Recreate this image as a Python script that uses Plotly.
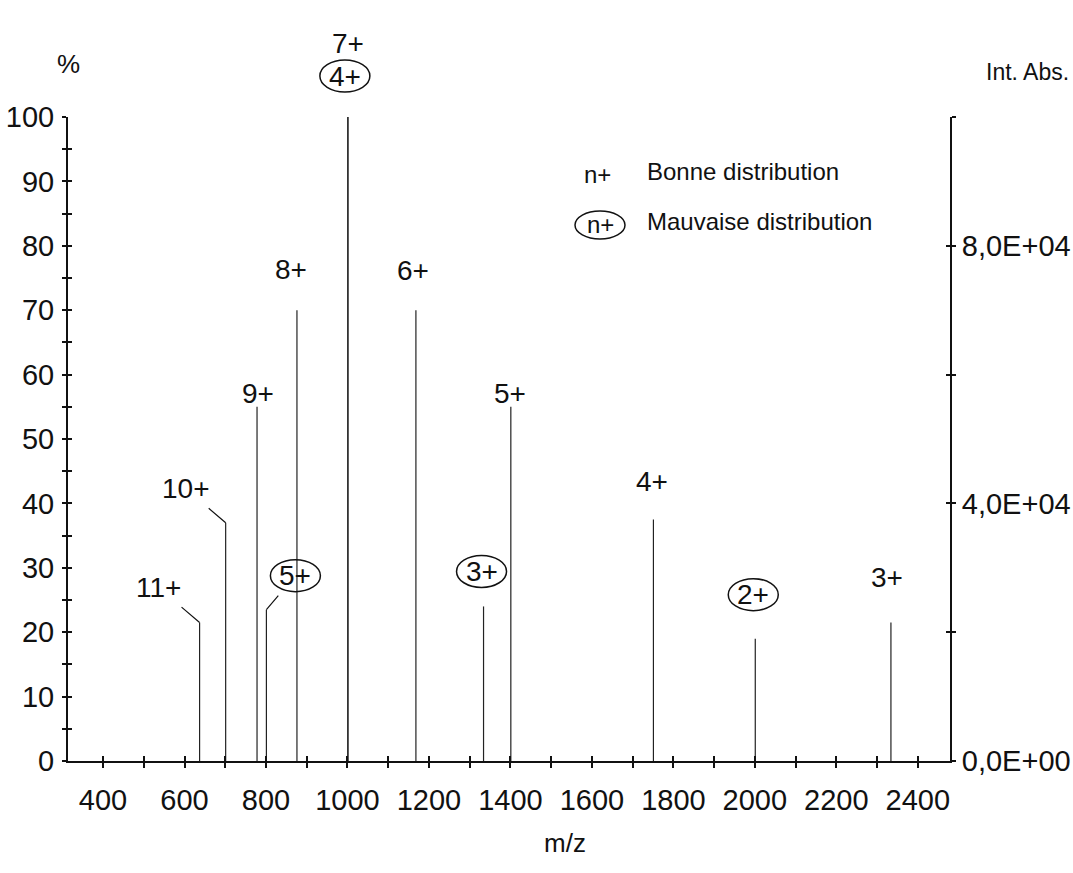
import plotly.graph_objects as go

# ---- Spectrum data -------------------------------------------------------
# Good charge-state distribution (M ~ 7000 Da)
good_mz = [637, 701, 778, 876, 1001, 1168, 1401, 1751, 2334]
good_int = [21.5, 37, 55, 70, 100, 70, 55, 37.5, 21.5]
good_z = ["11+", "10+", "9+", "8+", "7+", "6+", "5+", "4+", "3+"]

# Bad charge-state distribution (M ~ 4000 Da)
bad_mz = [801, 1001, 1334, 2001]
bad_int = [23.5, 100, 24, 19]
bad_z = ["5+", "4+", "3+", "2+"]

# Axis ticks
x_ticks = list(range(400, 2401, 100))
y_ticks = list(range(0, 101, 5))
abs_ticks = list(range(0, 100001, 20000))
ABS_MAX = 100000  # absolute intensity at 100 %

# ---- Label placement (pixel offsets from stick top, +dy = up) -------------
good_off = [(-41, 35, True), (-40, 34, True), (1, 13, False), (-6, 41, False),
            (0, 74, False), (-3, 40, False), (-1, 13, False), (-1, 38, False),
            (-4, 45, False)]
bad_off = [(29, 34, True), (-3, 41, False), (-2, 35, False), (-2, 44, False)]

FONT = "Liberation Sans"
BLACK = "#111111"
LBL = 28

XR = [314, 2479]
YR = [0, 100]

# ---- Sticks ----------------------------------------------------------------
def sticks(mzs, ints):
    xs, ys = [], []
    for m, i in zip(mzs, ints):
        xs += [m, m, None]
        ys += [0, i, None]
    return xs, ys

all_mz = good_mz + bad_mz
all_int = good_int + bad_int
sx, sy = sticks(all_mz, all_int)

fig = go.Figure()
fig.add_trace(go.Scatter(x=sx, y=sy, mode="lines",
                         line=dict(color="#222222", width=1.2),
                         showlegend=False, hoverinfo="skip"))
# helper traces so that overlay axes (crossing ticks, right axis) are drawn
for xa, ya in [("x", "y2"), ("x2", "y3"), ("x", "y4")]:
    fig.add_trace(go.Scatter(x=[None], y=[None], xaxis=xa, yaxis=ya,
                             showlegend=False, hoverinfo="skip"))

# ---- Peak labels -----------------------------------------------------------
annotations = []
shapes = []


def frac_x(m):
    return (m - XR[0]) / (XR[1] - XR[0])


def frac_y(v):
    return (v - YR[0]) / (YR[1] - YR[0])


def add_label(m, inten, txt, off):
    dx, dy, leader = off
    if leader:
        annotations.append(dict(
            x=m, y=inten, xref="x", yref="y", text=txt, showarrow=True,
            ax=dx, ay=-dy, axref="pixel", ayref="pixel",
            arrowhead=0, arrowwidth=1.2, arrowcolor=BLACK,
            standoff=0, startstandoff=4,
            font=dict(family=FONT, size=LBL, color=BLACK)))
    else:
        annotations.append(dict(
            x=m, y=inten, xref="x", yref="y", text=txt, showarrow=False,
            xshift=dx, yshift=dy, xanchor="center", yanchor="middle",
            font=dict(family=FONT, size=LBL, color=BLACK)))


for m, i, z, o in zip(good_mz, good_int, good_z, good_off):
    add_label(m, i, z, o)

for m, i, z, o in zip(bad_mz, bad_int, bad_z, bad_off):
    add_label(m, i, z, o)
    dx, dy, _ = o
    # ellipse round the label, anchored on the stick top
    shapes.append(dict(
        type="circle", xref="paper", yref="paper",
        xsizemode="pixel", ysizemode="pixel",
        xanchor=frac_x(m), yanchor=frac_y(i),
        x0=dx - 25, x1=dx + 25, y0=dy - 16, y1=dy + 16,
        line=dict(color=BLACK, width=1.5)))

# ---- Legend (text key) -----------------------------------------------------
PW, PH, L0, B0 = 882, 644, 68, 761


def px(xp):
    return (xp - L0) / PW


def py(yp):
    return (B0 - yp) / PH


LEG = 24


def note(x, y, text, size, xanchor="center"):
    return dict(x=px(x), y=py(y), xref="paper", yref="paper", text=text,
                showarrow=False, xanchor=xanchor, yanchor="middle",
                font=dict(family=FONT, size=size, color=BLACK))


annotations += [
    note(597, 174, "n+", LEG),
    note(645, 172, "Bonne distribution", LEG, "left"),
    note(600, 224, "n+", LEG),
    note(645, 222, "Mauvaise distribution", LEG, "left"),
    # axis titles
    note(68, 64, "%", 26),
    note(1071, 72, "Int. Abs.", 23, "right"),
    note(565, 843, "m/z", 26),
]
shapes.append(dict(type="circle", xref="paper", yref="paper",
                   x0=px(575), x1=px(625), y0=py(239), y1=py(211),
                   line=dict(color=BLACK, width=1.5)))

# ---- Axes ------------------------------------------------------------------
x_text = [str(v) if v % 200 == 0 else "" for v in x_ticks]
y_text = [str(v) if v % 10 == 0 else "" for v in y_ticks]


def sci_fr(v):
    mant, exp = f"{v:.1E}".split("E")
    return f"{mant.replace('.', ',')}E{exp}"


abs_text = [sci_fr(v) if v % 40000 == 0 else "" for v in abs_ticks]
TF = dict(family=FONT, size=29, color=BLACK)

common = dict(showgrid=False, zeroline=False, tickcolor=BLACK, tickwidth=1.5,
              automargin=False)

fig.update_layout(
    width=1073, height=873,
    margin=dict(l=L0, r=1073 - (L0 + PW), t=B0 - PH, b=873 - B0),
    paper_bgcolor="white", plot_bgcolor="white",
    xaxis=dict(range=XR, tickvals=x_ticks, ticktext=x_text, ticks="outside",
               ticklen=5, showline=True, linecolor=BLACK, linewidth=2,
               tickfont=TF, ticklabelstandoff=7, anchor="y", **common),
    xaxis2=dict(range=XR, tickvals=x_ticks, ticks="inside", ticklen=5,
                showticklabels=False, overlaying="x", anchor="y3",
                side="bottom", **common),
    yaxis=dict(range=YR, tickvals=y_ticks, ticktext=y_text,
               ticks="outside", ticklen=4, showline=True, linecolor=BLACK,
               linewidth=2, tickfont=TF, ticklabelstandoff=2, anchor="x",
               **common),
    yaxis3=dict(range=YR, tickvals=y_ticks, ticks="inside", ticklen=4,
                showticklabels=False, overlaying="y", anchor="x2",
                side="left", **common),
    yaxis2=dict(range=[0, ABS_MAX], tickvals=abs_ticks, ticktext=abs_text,
                ticks="outside", ticklen=4, side="right", overlaying="y",
                showline=True, linecolor=BLACK, linewidth=2,
                tickfont=TF, ticklabelstandoff=0, anchor="x", **common),
    yaxis4=dict(range=[0, ABS_MAX], tickvals=abs_ticks, ticks="inside",
                ticklen=4, showticklabels=False, side="right",
                overlaying="y", anchor="x", **common),
    annotations=annotations,
    shapes=shapes,
    showlegend=False,
)

fig.write_html("out.html")
